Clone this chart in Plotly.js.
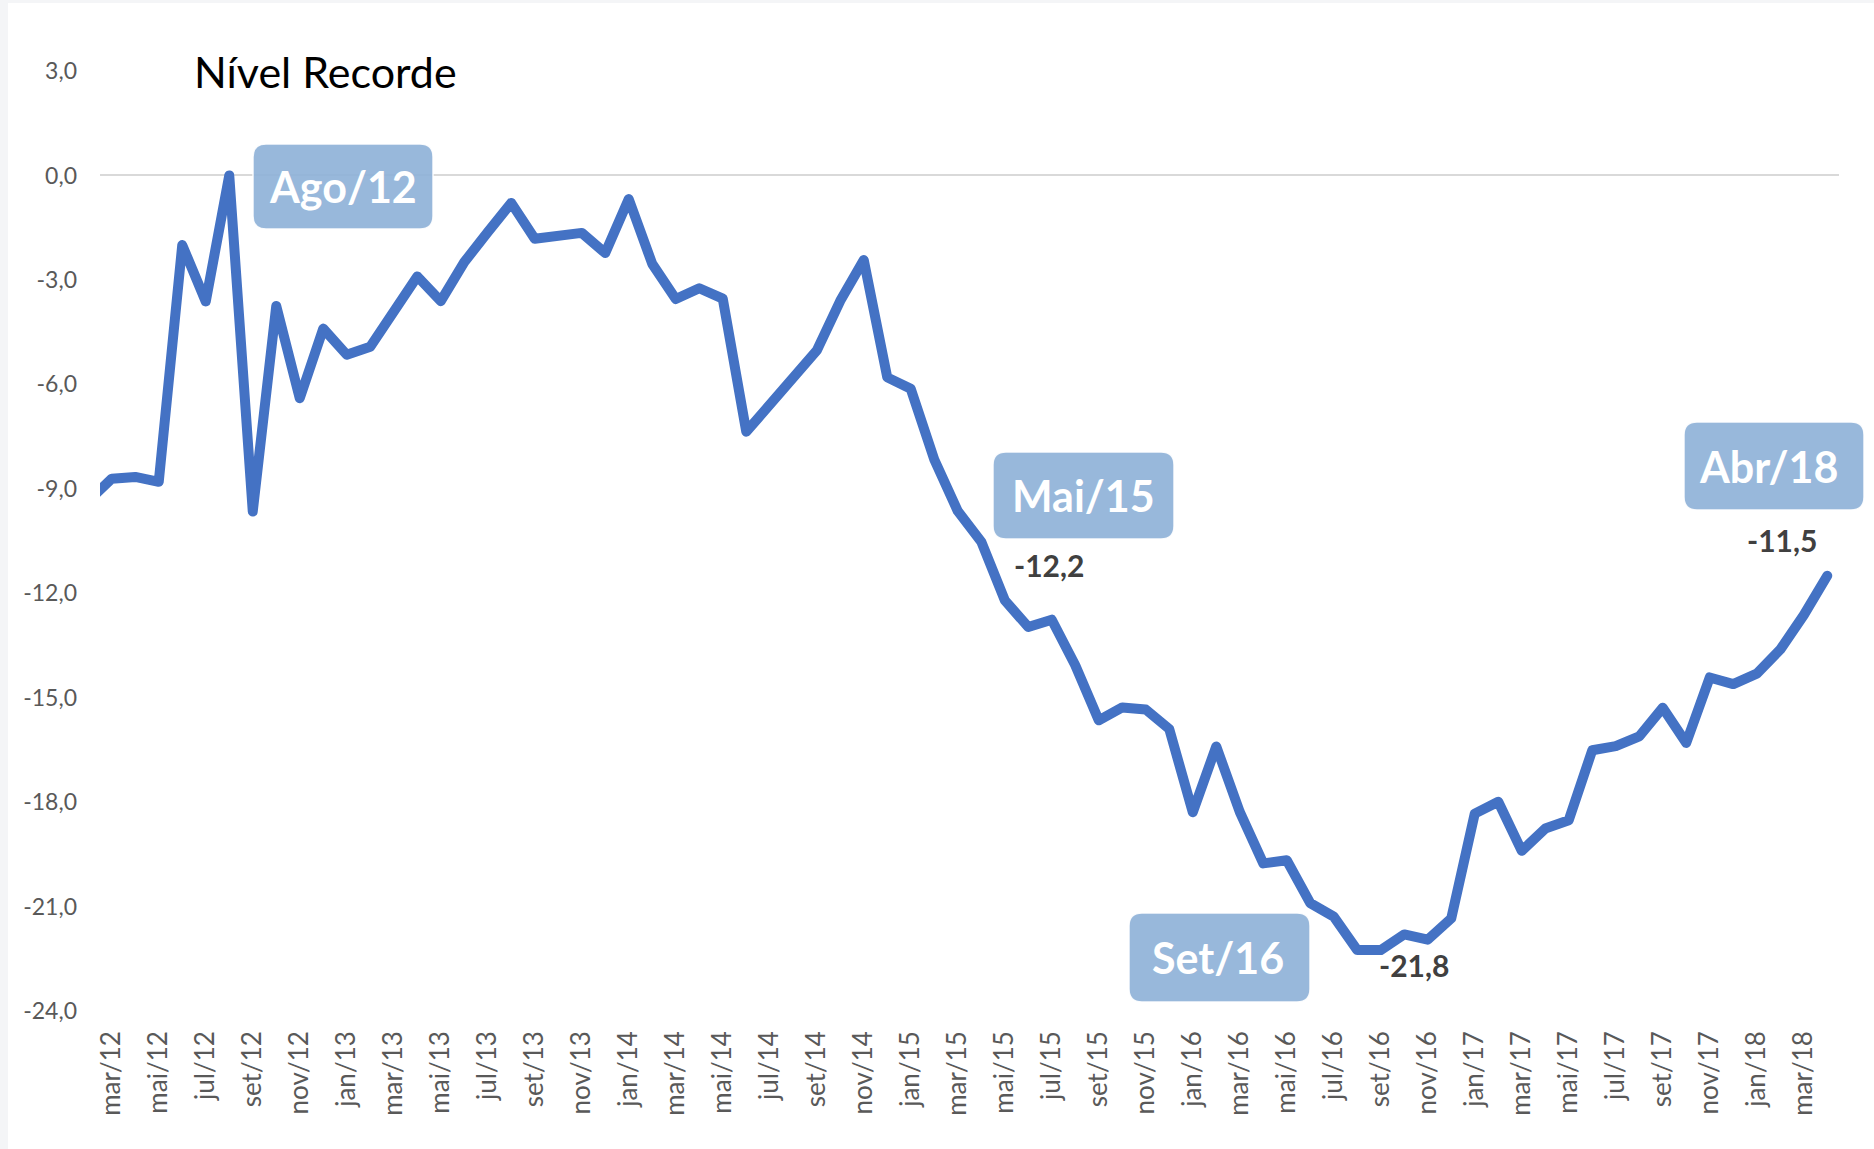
<!DOCTYPE html>
<html><head><meta charset="utf-8">
<script src="https://cdn.plot.ly/plotly-3.0.1.min.js"></script>
<style>
html,body{margin:0;padding:0;background:#f4f5f7;width:1874px;height:1149px;overflow:hidden;}
#chart{position:absolute;left:8px;top:3px;width:1866px;height:1146px;background:#fff;}
.js-line{stroke-linejoin:round !important;stroke-linecap:round !important;}
</style></head><body><div id="chart"></div>
<script>
// ---- data ----
const months = [
  'fev/12','mar/12','abr/12','mai/12','jun/12','jul/12','ago/12','set/12','out/12','nov/12','dez/12',
  'jan/13','fev/13','mar/13','abr/13','mai/13','jun/13','jul/13','ago/13','set/13','out/13','nov/13','dez/13',
  'jan/14','fev/14','mar/14','abr/14','mai/14','jun/14','jul/14','ago/14','set/14','out/14','nov/14','dez/14',
  'jan/15','fev/15','mar/15','abr/15','mai/15','jun/15','jul/15','ago/15','set/15','out/15','nov/15','dez/15',
  'jan/16','fev/16','mar/16','abr/16','mai/16','jun/16','jul/16','ago/16','set/16','out/16','nov/16','dez/16',
  'jan/17','fev/17','mar/17','abr/17','mai/17','jun/17','jul/17','ago/17','set/17','out/17','nov/17','dez/17',
  'jan/18','fev/18','mar/18','abr/18'
];
const values = [
  -9.35,-8.71,-8.66,-8.80,-2.00,-3.62,0.00,-9.65,-3.75,-6.40,-4.40,
  -5.15,-4.92,-3.90,-2.90,-3.61,-2.49,-1.63,-0.79,-1.82,-1.72,-1.65,-2.23,
  -0.68,-2.54,-3.55,-3.24,-3.54,-7.36,-6.55,-5.80,-5.03,-3.60,-2.43,-5.80,
  -6.13,-8.16,-9.64,-10.52,-12.2,-12.97,-12.76,-14.07,-15.65,-15.28,-15.34,-15.90,
  -18.29,-16.40,-18.28,-19.76,-19.67,-20.90,-21.29,-22.25,-22.25,-21.8,-21.95,-21.34,
  -18.33,-17.99,-19.40,-18.76,-18.52,-16.51,-16.39,-16.11,-15.29,-16.30,-14.42,-14.61,
  -14.31,-13.62,-12.63,-11.5
];
const yTickVals = [3,0,-3,-6,-9,-12,-15,-18,-21,-24];
const yTickText = ['3,0','0,0','-3,0','-6,0','-9,0','-12,0','-15,0','-18,0','-21,0','-24,0'];
const xTickVals = months.filter((m,i)=> i%2===1 && i<=73);
const chartTitle = 'Nível Recorde';
const boxLabels = ['Ago/12','Mai/15','Set/16','Abr/18'];
const labelMonths = ['mai/15','out/16','abr/18'];

// ---- layout helpers (pixel positions in the 1874x1149 frame) ----
const PL=100, PW=1739, PB=1011, PH=940;
const px = x => (x-PL)/PW;
const py = y => (PB-y)/PH;
function roundRect(x0,y0,x1,y1,r){
  const rx=r/PW, ry=r/PH;
  const a=px(x0), b=px(x1), t=py(y0), u=py(y1);
  return `M ${a+rx},${t} L ${b-rx},${t} Q ${b},${t} ${b},${t-ry} L ${b},${u+ry} Q ${b},${u} ${b-rx},${u} `+
         `L ${a+rx},${u} Q ${a},${u} ${a},${u+ry} L ${a},${t-ry} Q ${a},${t} ${a+rx},${t} Z`;
}
const boxRects = [[253,144,433,229],[993,452,1174,539],[1129,913,1310,1002],[1684,422,1864,510]];
const boxTextShift = [0,0,-2,-6];
const shapes = boxRects.map(r=>({type:'path',xref:'paper',yref:'paper',path:roundRect(r[0],r[1],r[2],r[3],13),
  fillcolor:'rgba(143,178,216,0.92)',line:{color:'rgba(255,255,255,0.9)',width:1.5},layer:'above'}));

const annotations = [];
annotations.push({xref:'paper',yref:'paper',x:px(192),y:py(71),xanchor:'left',yanchor:'middle',showarrow:false,
  text:chartTitle,font:{family:'Lato, sans-serif',size:43,color:'#000000'}});
boxLabels.forEach((t,k)=>{
  const r=boxRects[k];
  annotations.push({xref:'paper',yref:'paper',x:px((r[0]+r[2])/2+boxTextShift[k]),y:py((r[1]+r[3])/2),xanchor:'center',yanchor:'middle',
    showarrow:false,text:'<b>'+t+'</b>',font:{family:'Lato, sans-serif',size:43,color:'#ffffff'}});
});
const labelShift = [[44,35],[10,-31],[-45,36]];
labelMonths.forEach((m,k)=>{
  const v = values[months.indexOf(m)];
  annotations.push({xref:'x',yref:'y',x:m,y:v,xshift:labelShift[k][0],yshift:labelShift[k][1],showarrow:false,
    xanchor:'center',yanchor:'middle',text:'<b>'+v.toFixed(1).replace('.',',')+'</b>',
    font:{family:'Lato, sans-serif',size:30,color:'#404040'}});
});

const trace = {type:'scatter',mode:'lines',x:months,y:values,
  line:{color:'#4472c4',width:10},hoverinfo:'skip'};

const layout = {
  width:1866,height:1146,
  margin:{l:92,r:35,t:68,b:138,autoexpand:false},
  paper_bgcolor:'#ffffff',plot_bgcolor:'#ffffff',
  showlegend:false,hovermode:false,
  xaxis:{type:'category',categoryorder:'array',categoryarray:months,range:[0.5,74.5],
    showgrid:false,zeroline:false,showline:false,ticks:'',
    tickmode:'array',tickvals:xTickVals,ticktext:xTickVals,tickangle:-90,
    ticklabelstandoff:14,
    tickfont:{family:'Lato, sans-serif',size:26,color:'#595959'}},
  yaxis:{range:[-24,3],showgrid:false,zeroline:true,zerolinecolor:'#d9d9d9',zerolinewidth:2,showline:false,ticks:'',
    tickmode:'array',tickvals:yTickVals,ticktext:yTickText,ticklabelstandoff:22,
    tickfont:{family:'Lato, sans-serif',size:23,color:'#595959'}},
  shapes:shapes,
  annotations:annotations
};
Plotly.newPlot('chart',[trace],layout,{displayModeBar:false,staticPlot:true});
</script></body></html>
